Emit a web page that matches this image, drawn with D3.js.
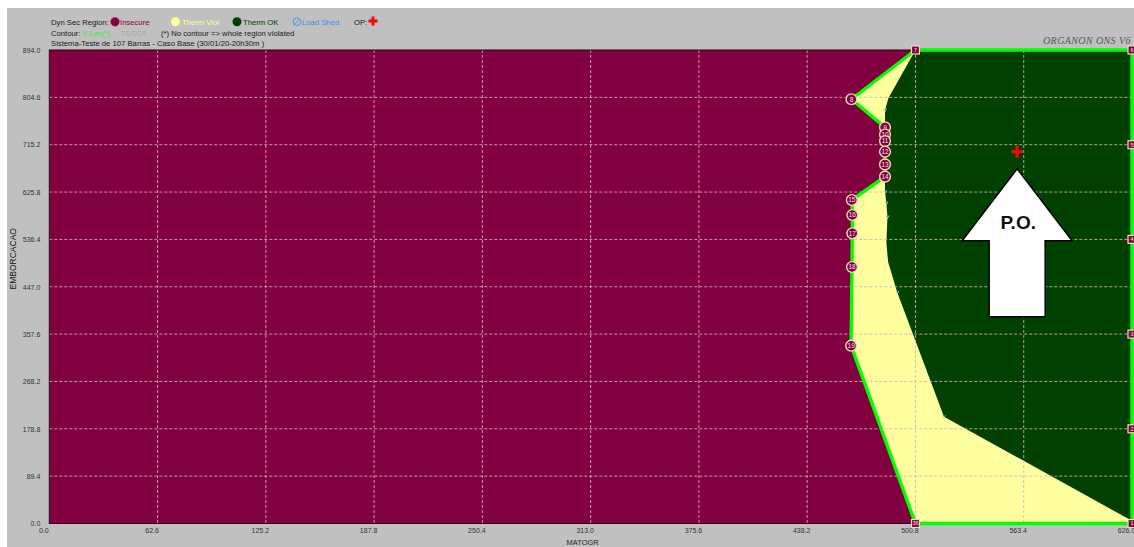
<!DOCTYPE html>
<html><head><meta charset="utf-8">
<script src="https://cdn.jsdelivr.net/npm/d3@7/dist/d3.min.js"></script>
<style>body{margin:0;background:#fff;} svg{display:block;font-family:"Liberation Sans",Arial,sans-serif;}</style>
</head><body><svg id="chart" width="1134" height="547"></svg>
<script>
// ---------- data ----------
const xTicks = [0, 62.6, 125.2, 187.8, 250.4, 313.0, 375.6, 438.2, 500.8, 563.4, 626.0];
const yTicks = [0, 89.4, 178.8, 268.2, 357.6, 447.0, 536.4, 625.8, 715.2, 804.6, 894.0];

// security (V Lim) contour points, top to bottom: label, MATOGR, EMBORCACAO
const contourIds = ["7", "8", "9", "10", "11", "12", "13", "14", "15", "16", "17", "18", "19", "36"];
const contourX   = [500.8, 463.8, 483.2, 483.2, 483.2, 483.2, 483.2, 483.2, 464.0, 464.3, 464.3, 464.1, 463.6, 500.8];
const contourY   = [894.0, 801.0, 748.0, 734.5, 722.0, 702.0, 678.0, 655.0, 610.8, 582.5, 548.0, 484.3, 335.7, 0.0];

// right edge of the region (square markers), bottom to top
const edgeIds = ["1", "2", "3", "4", "5", "6"];
const edgeX   = [626.0, 626.0, 626.0, 626.0, 626.0, 626.0];
const edgeY   = [0.0, 178.8, 357.6, 536.4, 715.2, 894.0];

// thermal limit boundary (Therm OK region), top to bottom
const thermX = [500.8, 485.2, 483.2, 483.2, 483.2, 484.0, 484.6, 484.0, 485.0, 490.3, 517.3, 626.0];
const thermY = [894.0, 803.4, 780.8, 655.0, 626.5, 605.2, 578.7, 529.6, 493.6, 436.2, 201.7, 5.0];
const thermMarkIdx = [2, 4, 5, 6, 9, 10];

// operating point
const opX = [559.6];
const opY = [702.0];

// ---------- layout ----------
const W = 1134, H = 547;
const pLeft = 49.3, pRight = 1132, pTop = 50, pBottom = 523.5;
const C = {maroon:"#800040", yellow:"#ffffa0", dgreen:"#004000", lime:"#00ff00",
           ring:"#f2dcae", grid:"rgba(215,175,185,0.85)"};

const svg = d3.select("#chart");
svg.append("rect").attr("x",0).attr("y",0).attr("width",W).attr("height",H).attr("fill","#fff");
svg.append("rect").attr("x",7).attr("y",8).attr("width",W-7).attr("height",H-8).attr("fill","#c0c0c0");

const x = d3.scaleLinear().domain([0, 626]).range([pLeft, pRight]);
const y = d3.scaleLinear().domain([0, 894]).range([pBottom, pTop]);

svg.append("clipPath").attr("id","pc").append("rect")
  .attr("x",x(0)).attr("y",y(894)).attr("width",x(626)-x(0)).attr("height",y(0)-y(894));

const plot = svg.append("g").attr("clip-path","url(#pc)");
plot.append("rect").attr("x",x(0)).attr("y",y(894)).attr("width",x(626)-x(0)).attr("height",y(0)-y(894))
  .attr("fill",C.maroon);

const line = d3.line().x(d=>x(d[0])).y(d=>y(d[1]));
const contourPts = contourX.map((v,i)=>[v, contourY[i]]);
const securePoly = contourPts.concat([[626,0],[626,894]]);
plot.append("path").attr("d", line(securePoly)+"Z").attr("fill",C.yellow);

const thermPts = thermX.map((v,i)=>[v, thermY[i]]);
const okPoly = thermPts.concat([[626,0],[626,894]]);
plot.append("path").attr("d", line(okPoly)+"Z").attr("fill",C.dgreen);

// grid
const inner = a => a.slice(1, a.length-1);
plot.selectAll(".vg").data(inner(xTicks)).join("line")
  .attr("x1",d=>x(d)).attr("x2",d=>x(d)).attr("y1",y(894)).attr("y2",y(0))
  .attr("stroke",C.grid).attr("stroke-width",1).attr("stroke-dasharray","3,2");
plot.selectAll(".hg").data(inner(yTicks)).join("line")
  .attr("y1",d=>y(d)).attr("y2",d=>y(d)).attr("x1",x(0)).attr("x2",x(626))
  .attr("stroke",C.grid).attr("stroke-width",1).attr("stroke-dasharray","3,2");

// plot frame
svg.append("rect").attr("x",x(0)).attr("y",y(894)).attr("width",x(626)-x(0)).attr("height",y(0)-y(894))
  .attr("fill","none").attr("stroke","#2a0015").attr("stroke-width",1);

// security contour (green)
svg.append("path").attr("d", line(securePoly)+"Z").attr("fill","none")
  .attr("stroke",C.lime).attr("stroke-width",3.4).attr("stroke-linejoin","round");

// thermal small marks
svg.selectAll(".tm").data(thermMarkIdx).join("path")
  .attr("d", i => { const cx=x(thermX[i]), cy=y(thermY[i]); return `M${cx-1.5},${cy-1.5}L${cx},${cy+1.5}L${cx+1.5},${cy-1.5}`; })
  .attr("fill","none").attr("stroke","#a8d0d8").attr("stroke-width",0.9);

// circle markers (first and last contour points are squares)
const circ = contourIds.map((id,i)=>({id, xv:contourX[i], yv:contourY[i]})).slice(1, contourIds.length-1);
const cg = svg.selectAll(".cm").data(circ).join("g").attr("transform",d=>`translate(${x(d.xv)},${y(d.yv)})`);
cg.append("circle").attr("r",5.4).attr("fill",C.maroon).attr("stroke",C.ring).attr("stroke-width",1.4);
cg.append("text").text(d=>d.id).attr("text-anchor","middle").attr("dy","0.35em")
  .attr("font-size",6.5).attr("fill","#f4e4ea");

// square markers
const sq = [{id:contourIds[0], xv:contourX[0], yv:contourY[0]},
            {id:contourIds[contourIds.length-1], xv:contourX[contourX.length-1], yv:contourY[contourY.length-1]}]
  .concat(edgeIds.map((id,i)=>({id, xv:edgeX[i], yv:edgeY[i]})));
const sg = svg.selectAll(".sm").data(sq).join("g").attr("transform",d=>`translate(${x(d.xv)},${y(d.yv)})`);
sg.append("rect").attr("x",-4).attr("y",-4).attr("width",8).attr("height",8)
  .attr("fill",C.maroon).attr("stroke",C.ring).attr("stroke-width",1.2);
sg.append("text").text(d=>d.id).attr("text-anchor","middle").attr("dy","0.35em")
  .attr("font-size",5.5).attr("fill","#f4e4ea");

// operating point cross
const ox = x(opX[0]), oy = y(opY[0]);
svg.append("path").attr("d",`M${ox-6},${oy}H${ox+6}M${ox},${oy-6}V${oy+6}`)
  .attr("stroke","#ff0000").attr("stroke-width",3.2);

// P.O. arrow annotation (positioned relative to OP)
const ar = [[0,17],[55,89],[28,89],[28,165],[-28,165],[-28,89],[-55,89]];
svg.append("path").attr("d", d3.line()(ar.map(p=>[ox+p[0], oy+p[1]]))+"Z")
  .attr("fill","#fff").attr("stroke","#000").attr("stroke-width",1.5).attr("stroke-linejoin","miter");
svg.append("text").text("P.O.").attr("x",ox+1).attr("y",oy+77).attr("text-anchor","middle")
  .attr("font-size",19).attr("font-weight","bold").attr("fill","#111");

// axes
const fmt = d3.format(".1f");
const xAxis = svg.append("g").attr("transform",`translate(0,${pBottom})`)
  .call(d3.axisBottom(x).tickValues(xTicks).tickSize(0).tickPadding(5).tickFormat(fmt));
xAxis.select(".domain").remove();
xAxis.selectAll("text").attr("dx",-6).attr("font-size",7).attr("fill","#333").attr("font-family","Liberation Sans, Arial, sans-serif");

const yAxis = svg.append("g").attr("transform",`translate(${pLeft},0)`)
  .call(d3.axisLeft(y).tickValues(yTicks).tickSize(0).tickPadding(9).tickFormat(fmt));
yAxis.select(".domain").remove();
yAxis.selectAll("text").attr("font-size",7).attr("fill","#333").attr("font-family","Liberation Sans, Arial, sans-serif");

svg.append("text").text("MATOGR").attr("x",x(313)-8).attr("y",545).attr("text-anchor","middle")
  .attr("font-size",7.5).attr("fill","#222");
svg.append("text").text("EMBORCACAO").attr("transform",`translate(15.5,${(pTop+pBottom)/2-28}) rotate(-90)`)
  .attr("text-anchor","middle").attr("font-size",8.5).attr("fill","#111");

// legend / header
const fs = 7.7;
const t = (s,xx,yy,c) => svg.append("text").text(s).attr("x",xx).attr("y",yy).attr("font-size",fs).attr("fill",c||"#1a1a1a");
t("Dyn Sec Region:",51,24.5);
svg.append("circle").attr("cx",115).attr("cy",21.8).attr("r",4.5).attr("fill",C.maroon).attr("stroke","#b06090").attr("stroke-width",0.6);
t("Insecure",120,24.5,"#800040");
svg.append("circle").attr("cx",175.5).attr("cy",21.8).attr("r",4.5).attr("fill",C.yellow);
t("Therm Viol",182,24.5,"#ffff99");
svg.append("circle").attr("cx",237).attr("cy",21.8).attr("r",4.5).attr("fill",C.dgreen);
t("Therm OK",243,24.5,C.dgreen);
svg.append("circle").attr("cx",297).attr("cy",21.8).attr("r",3.8).attr("fill","none").attr("stroke","#3a8ee6").attr("stroke-width",0.9);
svg.append("line").attr("x1",294.3).attr("y1",24.5).attr("x2",299.7).attr("y2",19.1).attr("stroke","#3a8ee6").attr("stroke-width",0.9);
t("Load Shed",302,24.5,"#3a8ee6");
t("OP:",354,24.5);
svg.append("path").attr("d","M368.5,21H377.5M373,16.5V25.5").attr("stroke","#ff0000").attr("stroke-width",2.8);

t("Contour:",51,36);
t("V Lim(*)",82,36,"#33ee33");
t("TDSC/I",121,36,"#a8a8a8");
t("(*) No contour => whole region violated",161,36);
t("Sistema-Teste de 107 Barras - Caso Base (30/01/20-20h30m )",51,45.5);

svg.append("text").text("ORGANON ONS V6").attr("x",1043).attr("y",44)
  .attr("font-family","Liberation Serif, serif").attr("font-style","italic")
  .attr("font-size",10).attr("letter-spacing",0.4).attr("fill","#555");
</script>
</body></html>
